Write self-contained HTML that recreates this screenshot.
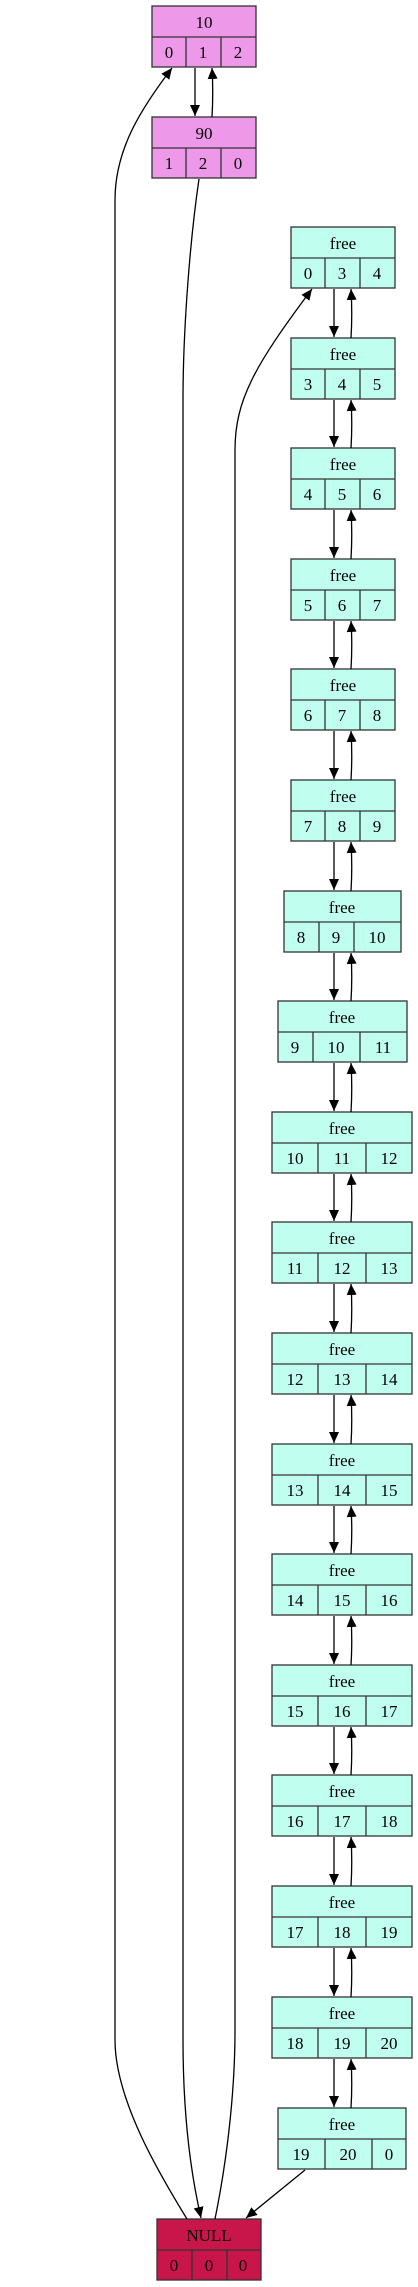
<!DOCTYPE html>
<html><head><meta charset="utf-8"><style>
html,body{margin:0;padding:0;background:#fff;width:418px;height:2287px;overflow:hidden}
svg{display:block}
text{font-family:"Liberation Serif",serif;font-size:17px;text-anchor:middle;fill:#000}
.p{fill:#ee98e9;stroke:#333;stroke-width:1.3}
.f{fill:#c0fff0;stroke:#333;stroke-width:1.3}
.n{fill:#c8164a;stroke:#333;stroke-width:1.3}
.l{stroke:#333;stroke-width:1.3;fill:none}
.e{stroke:#000;stroke-width:1.3;fill:none}
</style></head><body>
<svg width="418" height="2287" viewBox="0 0 418 2287" xmlns="http://www.w3.org/2000/svg">
<defs><marker id="a" markerUnits="userSpaceOnUse" markerWidth="12" markerHeight="10" refX="11" refY="5" orient="auto"><path d="M0,0 L11,5 L0,10 z" fill="#000"/></marker></defs>

<!-- node 10 -->
<rect class="p" x="152" y="6" width="104" height="61"/><path class="l" d="M152 37H256M186 37V67M221 37V67"/>
<text x="204" y="28">10</text><text x="169" y="58">0</text><text x="203" y="58">1</text><text x="238" y="58">2</text>
<!-- node 90 -->
<rect class="p" x="152" y="117" width="104" height="61"/><path class="l" d="M152 148H256M186 148V178M221 148V178"/>
<text x="204" y="139">90</text><text x="169" y="169">1</text><text x="203" y="169">2</text><text x="238" y="169">0</text>
<path class="e" d="M195 68V116" marker-end="url(#a)"/>
<path class="e" d="M212 117C213 100 213 85 212 68" marker-end="url(#a)"/>

<!-- free nodes -->
<g id="fn">
<rect class="f" x="291" y="227" width="104" height="61"/><path class="l" d="M291 258H395M325 258V288M360 258V288"/><text x="343" y="249">free</text><text x="308" y="279">0</text><text x="342" y="279">3</text><text x="377" y="279">4</text>
<rect class="f" x="291" y="338" width="104" height="61"/><path class="l" d="M291 369H395M325 369V399M360 369V399"/><text x="343" y="360">free</text><text x="308" y="390">3</text><text x="342" y="390">4</text><text x="377" y="390">5</text>
<rect class="f" x="291" y="448" width="104" height="61"/><path class="l" d="M291 479H395M325 479V509M360 479V509"/><text x="343" y="470">free</text><text x="308" y="500">4</text><text x="342" y="500">5</text><text x="377" y="500">6</text>
<rect class="f" x="291" y="559" width="104" height="61"/><path class="l" d="M291 590H395M325 590V620M360 590V620"/><text x="343" y="581">free</text><text x="308" y="611">5</text><text x="342" y="611">6</text><text x="377" y="611">7</text>
<rect class="f" x="291" y="669" width="104" height="61"/><path class="l" d="M291 700H395M325 700V730M360 700V730"/><text x="343" y="691">free</text><text x="308" y="721">6</text><text x="342" y="721">7</text><text x="377" y="721">8</text>
<rect class="f" x="291" y="780" width="104" height="61"/><path class="l" d="M291 811H395M325 811V841M360 811V841"/><text x="343" y="802">free</text><text x="308" y="832">7</text><text x="342" y="832">8</text><text x="377" y="832">9</text>
<rect class="f" x="284" y="891" width="117" height="61"/><path class="l" d="M284 922H401M319 922V952M354 922V952"/><text x="342" y="913">free</text><text x="301" y="943">8</text><text x="336" y="943">9</text><text x="377" y="943">10</text>
<rect class="f" x="278" y="1001" width="129" height="61"/><path class="l" d="M278 1032H407M313 1032V1062M360 1032V1062"/><text x="342" y="1023">free</text><text x="295" y="1053">9</text><text x="336" y="1053">10</text><text x="383" y="1053">11</text>
<rect class="f" x="272" y="1112" width="140" height="61"/><path class="l" d="M272 1143H412M318 1143V1173M366 1143V1173"/><text x="342" y="1134">free</text><text x="295" y="1164">10</text><text x="342" y="1164">11</text><text x="389" y="1164">12</text>
<rect class="f" x="272" y="1222" width="140" height="61"/><path class="l" d="M272 1253H412M318 1253V1283M366 1253V1283"/><text x="342" y="1244">free</text><text x="295" y="1274">11</text><text x="342" y="1274">12</text><text x="389" y="1274">13</text>
<rect class="f" x="272" y="1333" width="140" height="61"/><path class="l" d="M272 1364H412M318 1364V1394M366 1364V1394"/><text x="342" y="1355">free</text><text x="295" y="1385">12</text><text x="342" y="1385">13</text><text x="389" y="1385">14</text>
<rect class="f" x="272" y="1444" width="140" height="61"/><path class="l" d="M272 1475H412M318 1475V1505M366 1475V1505"/><text x="342" y="1466">free</text><text x="295" y="1496">13</text><text x="342" y="1496">14</text><text x="389" y="1496">15</text>
<rect class="f" x="272" y="1554" width="140" height="61"/><path class="l" d="M272 1585H412M318 1585V1615M366 1585V1615"/><text x="342" y="1576">free</text><text x="295" y="1606">14</text><text x="342" y="1606">15</text><text x="389" y="1606">16</text>
<rect class="f" x="272" y="1665" width="140" height="61"/><path class="l" d="M272 1696H412M318 1696V1726M366 1696V1726"/><text x="342" y="1687">free</text><text x="295" y="1717">15</text><text x="342" y="1717">16</text><text x="389" y="1717">17</text>
<rect class="f" x="272" y="1775" width="140" height="61"/><path class="l" d="M272 1806H412M318 1806V1836M366 1806V1836"/><text x="342" y="1797">free</text><text x="295" y="1827">16</text><text x="342" y="1827">17</text><text x="389" y="1827">18</text>
<rect class="f" x="272" y="1886" width="140" height="61"/><path class="l" d="M272 1917H412M318 1917V1947M366 1917V1947"/><text x="342" y="1908">free</text><text x="295" y="1938">17</text><text x="342" y="1938">18</text><text x="389" y="1938">19</text>
<rect class="f" x="272" y="1997" width="140" height="61"/><path class="l" d="M272 2028H412M318 2028V2058M366 2028V2058"/><text x="342" y="2019">free</text><text x="295" y="2049">18</text><text x="342" y="2049">19</text><text x="389" y="2049">20</text>
<rect class="f" x="278" y="2108" width="128" height="61"/><path class="l" d="M278 2139H406M325 2139V2169M372 2139V2169"/><text x="342" y="2130">free</text><text x="301" y="2160">19</text><text x="348" y="2160">20</text><text x="389" y="2160">0</text>
</g>

<!-- chain arrows -->
<g>
<path class="e" d="M334 289V337" marker-end="url(#a)"/><path class="e" d="M351 338C352 322 352 306 351 289" marker-end="url(#a)"/>
<path class="e" d="M334 400V447" marker-end="url(#a)"/><path class="e" d="M351 448C352 432 352 416 351 400" marker-end="url(#a)"/>
<path class="e" d="M334 510V558" marker-end="url(#a)"/><path class="e" d="M351 559C352 543 352 527 351 510" marker-end="url(#a)"/>
<path class="e" d="M334 621V668" marker-end="url(#a)"/><path class="e" d="M351 669C352 653 352 637 351 621" marker-end="url(#a)"/>
<path class="e" d="M334 731V779" marker-end="url(#a)"/><path class="e" d="M351 780C352 764 352 748 351 731" marker-end="url(#a)"/>
<path class="e" d="M334 842V890" marker-end="url(#a)"/><path class="e" d="M351 891C352 875 352 859 351 842" marker-end="url(#a)"/>
<path class="e" d="M334 953V1000" marker-end="url(#a)"/><path class="e" d="M351 1001C352 985 352 969 351 953" marker-end="url(#a)"/>
<path class="e" d="M334 1063V1111" marker-end="url(#a)"/><path class="e" d="M351 1112C352 1096 352 1080 351 1063" marker-end="url(#a)"/>
<path class="e" d="M334 1174V1221" marker-end="url(#a)"/><path class="e" d="M351 1222C352 1206 352 1190 351 1174" marker-end="url(#a)"/>
<path class="e" d="M334 1284V1332" marker-end="url(#a)"/><path class="e" d="M351 1333C352 1317 352 1301 351 1284" marker-end="url(#a)"/>
<path class="e" d="M334 1395V1443" marker-end="url(#a)"/><path class="e" d="M351 1444C352 1428 352 1412 351 1395" marker-end="url(#a)"/>
<path class="e" d="M334 1506V1553" marker-end="url(#a)"/><path class="e" d="M351 1554C352 1538 352 1522 351 1506" marker-end="url(#a)"/>
<path class="e" d="M334 1616V1664" marker-end="url(#a)"/><path class="e" d="M351 1665C352 1649 352 1633 351 1616" marker-end="url(#a)"/>
<path class="e" d="M334 1727V1774" marker-end="url(#a)"/><path class="e" d="M351 1775C352 1759 352 1743 351 1727" marker-end="url(#a)"/>
<path class="e" d="M334 1837V1885" marker-end="url(#a)"/><path class="e" d="M351 1886C352 1870 352 1854 351 1837" marker-end="url(#a)"/>
<path class="e" d="M334 1948V1996" marker-end="url(#a)"/><path class="e" d="M351 1997C352 1981 352 1965 351 1948" marker-end="url(#a)"/>
<path class="e" d="M334 2059V2107" marker-end="url(#a)"/><path class="e" d="M351 2108C352 2092 352 2076 351 2059" marker-end="url(#a)"/>
</g>

<!-- NULL -->
<rect class="n" x="157" y="2219" width="104" height="61"/><path class="l" d="M157 2250H261M192 2250V2280M227 2250V2280"/>
<text x="209" y="2241">NULL</text><text x="174" y="2271">0</text><text x="209" y="2271">0</text><text x="243" y="2271">0</text>

<!-- long edges -->
<path class="e" d="M187 2219C160 2175 115 2100 115 2040V200C115 150 140 110 172 68" marker-end="url(#a)"/>
<path class="e" d="M199 179C190 240 183 330 183 400V2040C183 2110 190 2170 201 2218" marker-end="url(#a)"/>
<path class="e" d="M215 2219C225 2170 235 2100 235 2030V450C235 400 255 365 312 289" marker-end="url(#a)"/>
<path class="e" d="M305 2170L246 2218" marker-end="url(#a)"/>
</svg>
</body></html>
